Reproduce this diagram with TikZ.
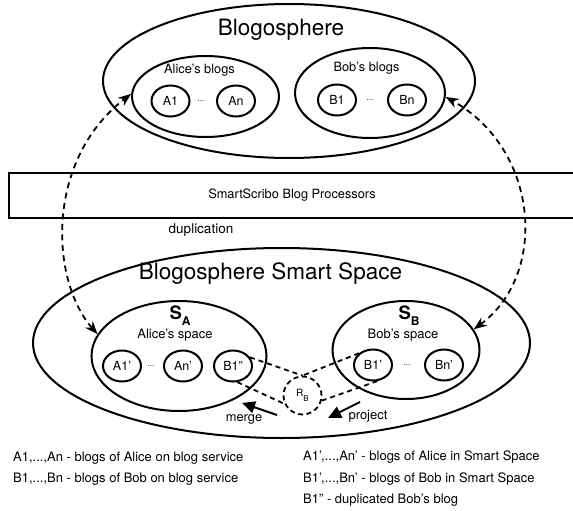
\documentclass[tikz,border=0pt]{standalone}
\usepackage{fontspec}
\setmainfont{TeX Gyre Heros}
\usetikzlibrary{shapes,arrows,arrows.meta}

\begin{document}
\begin{tikzpicture}[x=1pt, y=1pt, node distance=60pt]
    % styles for spheres, blogs and texts
    \tikzstyle{sphere} = [ellipse, draw=black, line width=2pt, inner sep=0pt]
    \tikzstyle{blog} = [ellipse, draw=black, line width=2pt, minimum width=38pt, minimum height=31pt, inner sep=0pt, font=\fontsize{12.5}{14}\selectfont]
    \tikzstyle{relay} = [circle, draw=black, line width=1.8pt, dash pattern=on 5pt off 3.5pt, minimum size=38pt, inner sep=0pt, font=\fontsize{10}{11}\selectfont]
    \tikzstyle{procbox} = [rectangle, draw=black, line width=1.8pt, minimum width=566pt, minimum height=45pt, inner sep=0pt, font=\fontsize{12.8}{14}\selectfont]
    \tikzstyle{bigtitle} = [inner sep=0pt, font=\fontsize{22.5}{24}\selectfont]
    \tikzstyle{grouptext} = [inner sep=0pt, font=\fontsize{12.8}{14}\selectfont]
    \tikzstyle{spacename} = [inner sep=0pt, font=\fontsize{18.5}{20}\selectfont\bfseries]
    \tikzstyle{dotstext} = [inner sep=0pt, font=\fontsize{8}{9}\selectfont]
    \tikzstyle{legend} = [inner sep=0pt, anchor=west, font=\fontsize{13}{15}\selectfont]
    \tikzstyle{dup} = [line width=1.8pt, dash pattern=on 6pt off 4.5pt, <->, >={Stealth[length=13pt,width=10pt]}]
    \tikzstyle{link} = [line width=1.8pt, dash pattern=on 5pt off 4pt]
    \tikzstyle{move} = [line width=2pt, -{Triangle[length=13pt,width=12pt]}]

    \useasboundingbox (0,0) rectangle (573,-511);

    % blogosphere
    \node[sphere, minimum width=372pt, minimum height=154pt] (blogo) at (289,-81) {};
    \node[bigtitle] (blogotitle) at (281,-30) {Blogosphere};
    \node[sphere, minimum width=147pt, minimum height=81pt] (alice) at (205.5,-96.5) {};
    \node[grouptext] (alicetxt) at (199.5,-70) {Alice's blogs};
    \node[blog] (a1) at (170.5,-101) {A1};
    \node[blog, right of=a1, xshift=5.5pt] (an) {An};
    \node[dotstext] (adots) at (201,-101) {...};
    \node[sphere, minimum width=150pt, minimum height=90pt] (bob) at (370,-93) {};
    \node[grouptext] (bobtxt) at (366.5,-68) {Bob's blogs};
    \node[blog] (b1) at (337,-100) {B1};
    \node[blog, right of=b1, xshift=10pt] (bn) {Bn};
    \node[dotstext] (bdots) at (370,-100) {...};

    % processors
    \node[procbox] (proc) at (292,-195.5) {SmartScribo Blog Processors};
    \node[grouptext, font=\fontsize{13.5}{15}\selectfont] (dupl) at (201,-230) {duplication};

    % smart space
    \node[sphere, minimum width=497pt, minimum height=190pt] (smart) at (281.5,-343) {};
    \node[bigtitle] (smarttitle) at (270.5,-274) {Blogosphere Smart Space};
    \node[sphere, minimum width=175pt, minimum height=110pt] (sa) at (179,-356) {};
    \node[spacename, anchor=base] (salbl) at (180,-319.5) {S\raisebox{-6pt}{\fontsize{12}{12}\selectfont A}};
    \node[grouptext, font=\fontsize{13}{15}\selectfont] (satxt) at (175,-335) {Alice's space};
    \node[blog] (a1p) at (122,-366) {A1'};
    \node[blog, right of=a1p, xshift=1pt] (anp) {An'};
    \node[blog, right of=anp, xshift=-10pt] (b1dd) {B1''};
    \node[dotstext] (sadots) at (151,-366) {...};
    \node[sphere, minimum width=147pt, minimum height=98pt] (sb) at (406,-350) {};
    \node[spacename, anchor=base] (sblbl) at (409,-319.5) {S\raisebox{-6pt}{\fontsize{12}{12}\selectfont B}};
    \node[grouptext, font=\fontsize{13}{15}\selectfont] (sbtxt) at (403,-335) {Bob's space};
    \node[blog] (b1p) at (373,-365) {B1'};
    \node[blog, right of=b1p, xshift=11pt] (bnp) {Bn'};
    \node[dotstext] (sbdots) at (407,-365) {...};
    \node[relay] (rb) at (302.5,-395.5) {R\raisebox{-5pt}{\fontsize{8}{9}\selectfont B}};

    % duplication arrows
    \draw[dup] (sa.165) .. controls (50,-280) and (45,-160) .. (alice.178);
    \draw[dup] (sb.17) .. controls (548,-275) and (540,-150) .. (bob.-3);

    % links through R_B
    \draw[link] (b1dd.27) -- (rb.north);
    \draw[link] (b1p.140) -- (rb.north);
    \draw[link] (b1dd.-75) -- (rb.205);
    \draw[link] (rb.-15) -- (b1p.-75);

    % merge and project
    \coordinate (mergefrom) at (277,-415);
    \coordinate (mergeto) at (242,-403);
    \coordinate (projfrom) at (360,-402);
    \coordinate (projto) at (328,-418);
    \draw[move] (mergefrom) -- (mergeto);
    \draw[move] (projfrom) -- (projto);
    \node[grouptext] (mergetxt) at (244,-419) {merge};
    \node[grouptext, font=\fontsize{13}{15}\selectfont] (projtxt) at (368,-416) {project};

    % legend
    \node[legend] (leg1) at (13,-458) {A1,...,An - blogs of Alice on blog service};
    \node[legend] (leg2) at (13,-479) {B1,...,Bn - blogs of Bob on blog service};
    \node[legend] (leg3) at (303,-457) {A1',...,An' - blogs of Alice in Smart Space};
    \node[legend] (leg4) at (303,-479) {B1',...,Bn' - blogs of Bob in Smart Space};
    \node[legend] (leg5) at (303,-500) {B1'' - duplicated Bob's blog};
\end{tikzpicture}
\end{document}
